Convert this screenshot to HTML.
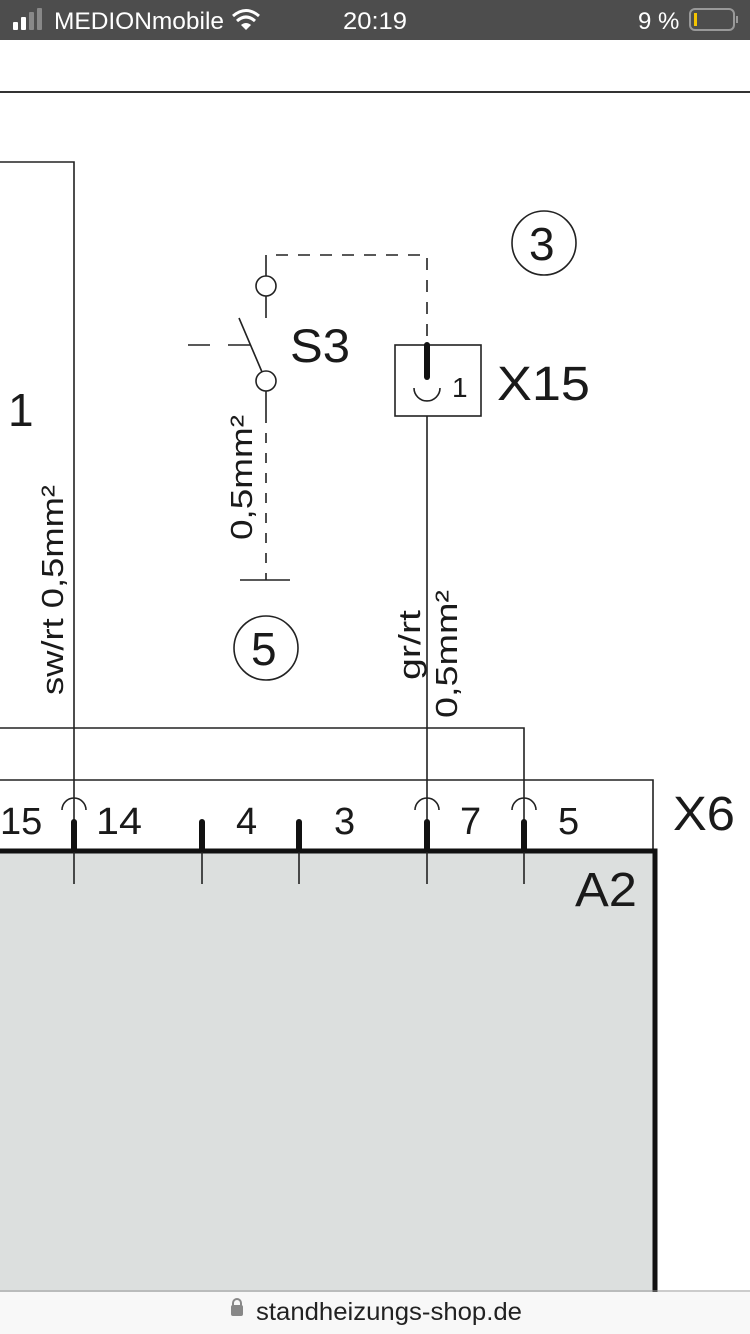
<!DOCTYPE html>
<html><head><meta charset="utf-8"><style>
html,body{margin:0;padding:0;width:750px;height:1334px;overflow:hidden;background:#fff;font-family:"Liberation Sans",sans-serif}
</style></head><body>
<svg width="750" height="1334" viewBox="0 0 750 1334" xmlns="http://www.w3.org/2000/svg" font-family="Liberation Sans, sans-serif">
<rect x="0" y="0" width="750" height="40" fill="#4d4d4d"/>
<rect x="13" y="22" width="5" height="8" rx="1" fill="#fff"/>
<rect x="21" y="17" width="5" height="13" rx="1" fill="#fff"/>
<rect x="29" y="12" width="5" height="18" rx="1" fill="#888"/>
<rect x="37" y="8" width="5" height="22" rx="1" fill="#888"/>
<text x="54" y="29" font-size="24" fill="#fff" textLength="170" lengthAdjust="spacingAndGlyphs">MEDIONmobile</text>
<path d="M233 16 Q246 5 259 16" stroke="#fff" stroke-width="3" fill="none"/>
<path d="M237 21 Q246 13 255 21" stroke="#fff" stroke-width="3" fill="none"/>
<path d="M241 25 L246 30 L251 25 Q246 21 241 25Z" fill="#fff"/>
<text x="343" y="29" font-size="24" fill="#fff" textLength="64" lengthAdjust="spacingAndGlyphs">20:19</text>
<text x="638" y="29" font-size="24" fill="#fff">9 %</text>
<rect x="690" y="9" width="44" height="21" rx="5" fill="none" stroke="#999" stroke-width="2"/>
<rect x="694" y="13" width="3" height="13" fill="#f5c400"/>
<rect x="736" y="16" width="2" height="7" fill="#999"/>
<line x1="0" y1="92" x2="750" y2="92" stroke="#333" stroke-width="2"/>

<g stroke="#222" fill="none" stroke-width="1.6">
<polyline points="0,162 74,162 74,884"/>
<polyline points="0,728 524,728 524,884"/>
<line x1="427" y1="416" x2="427" y2="884"/>
<polyline points="0,780 653,780 653,850"/>
<circle cx="544" cy="243" r="32"/>
<circle cx="266" cy="648" r="32"/>
<polyline points="266,255 266,276"/>
<polyline stroke-dasharray="12,10" points="276,255 427,255 427,340"/>
<circle cx="266" cy="286" r="10"/>
<line x1="266" y1="296" x2="266" y2="318"/>
<line x1="239" y1="318" x2="262" y2="372"/>
<line x1="188" y1="345" x2="210" y2="345"/>
<line x1="228" y1="345" x2="250" y2="345"/>
<circle cx="266" cy="381" r="10"/>
<line x1="266" y1="391" x2="266" y2="413"/>
<line x1="266" y1="413" x2="266" y2="580" stroke-dasharray="10,10"/>
<line x1="240" y1="580" x2="290" y2="580"/>
<rect x="395" y="345" width="86" height="71"/>
<path d="M414 388 A13 13 0 0 0 440 388"/>
<path d="M62 810 A12 12 0 0 1 86 810"/>
<path d="M415 810 A12 12 0 0 1 439 810"/>
<path d="M512 810 A12 12 0 0 1 536 810"/>
</g>
<line x1="427" y1="345" x2="427" y2="377" stroke="#111" stroke-width="6" stroke-linecap="round"/>
<g stroke="#111" stroke-width="6" stroke-linecap="round">
<line x1="74" y1="822" x2="74" y2="850"/>
<line x1="202" y1="822" x2="202" y2="850"/>
<line x1="299" y1="822" x2="299" y2="850"/>
<line x1="427" y1="822" x2="427" y2="850"/>
<line x1="524" y1="822" x2="524" y2="850"/>
</g>
<rect x="0" y="852" width="653" height="440" fill="#dcdfde"/>
<polyline points="0,851 655,851 655,1292" fill="none" stroke="#111" stroke-width="5"/>
<g stroke="#222" stroke-width="1.6">
<line x1="74" y1="852" x2="74" y2="884"/>
<line x1="202" y1="852" x2="202" y2="884"/>
<line x1="299" y1="852" x2="299" y2="884"/>
<line x1="427" y1="852" x2="427" y2="884"/>
<line x1="524" y1="852" x2="524" y2="884"/>
</g>

<g fill="#1a1a1a">
<text x="8" y="426" font-size="46">1</text>
<text transform="translate(63,695) rotate(-90)" font-size="31" textLength="210" lengthAdjust="spacingAndGlyphs">sw/rt 0,5mm²</text>
<text x="529" y="260" font-size="46">3</text>
<text x="251" y="665" font-size="46">5</text>
<text x="290" y="362" font-size="47" textLength="60" lengthAdjust="spacingAndGlyphs">S3</text>
<text x="452" y="397" font-size="28">1</text>
<text x="497" y="400" font-size="48" textLength="93" lengthAdjust="spacingAndGlyphs">X15</text>
<text transform="translate(252,540) rotate(-90)" font-size="31" textLength="125" lengthAdjust="spacingAndGlyphs">0,5mm²</text>
<text transform="translate(420,680) rotate(-90)" font-size="31" textLength="70" lengthAdjust="spacingAndGlyphs">gr/rt</text>
<text transform="translate(457,718) rotate(-90)" font-size="31" textLength="128" lengthAdjust="spacingAndGlyphs">0,5mm²</text>
<text x="0" y="834" font-size="38">15</text>
<text x="96" y="834" font-size="38" textLength="46" lengthAdjust="spacingAndGlyphs">14</text>
<text x="236" y="834" font-size="38">4</text>
<text x="334" y="834" font-size="38">3</text>
<text x="460" y="834" font-size="38">7</text>
<text x="558" y="834" font-size="38">5</text>
<text x="673" y="830" font-size="48" textLength="62" lengthAdjust="spacingAndGlyphs">X6</text>
<text x="575" y="906" font-size="48" textLength="62" lengthAdjust="spacingAndGlyphs">A2</text>
</g>

<rect x="0" y="1292" width="750" height="42" fill="#f8f8f8"/>
<line x1="0" y1="1291" x2="750" y2="1291" stroke="#999" stroke-width="1"/>
<path d="M233 1306 v-3 a4 4 0 0 1 8 0 v3" stroke="#888" stroke-width="2" fill="none"/>
<rect x="231" y="1305" width="12" height="11" rx="2" fill="#888"/>
<text x="256" y="1320" font-size="25" fill="#222" textLength="266" lengthAdjust="spacingAndGlyphs">standheizungs-shop.de</text>
</svg>
</body></html>
